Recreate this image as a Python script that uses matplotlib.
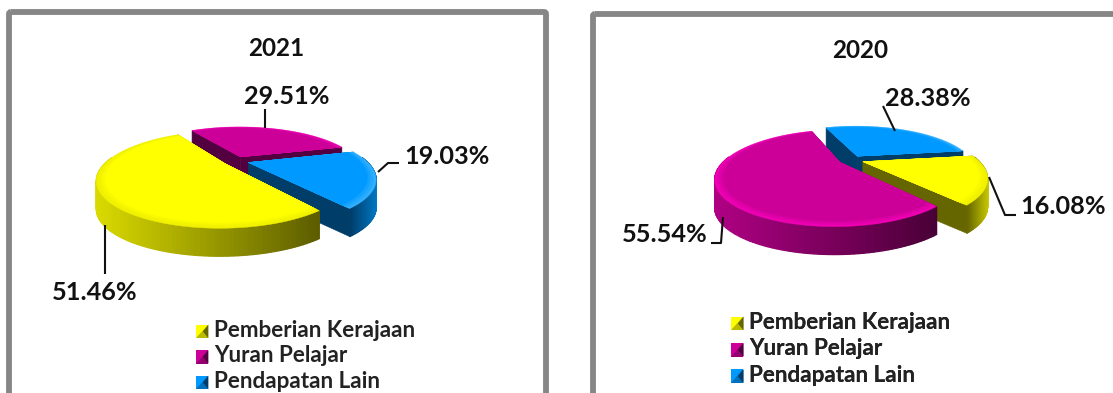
# plot.py
# Two exploded perspective pies (2021 and 2020), drawn on one pixel-scaled axes.
import numpy as np
import matplotlib
matplotlib.use("Agg")
import matplotlib.pyplot as plt
from matplotlib.colors import to_rgb
from matplotlib.legend_handler import HandlerBase
from matplotlib.patches import FancyBboxPatch, Patch, Polygon

# ─── Data ─────────────────────────────────────────────────────────────
CATEGORIES = ["Pemberian Kerajaan", "Yuran Pelajar", "Pendapatan Lain"]
VALUES_2021 = [51.46, 29.51, 19.03]
VALUES_2020 = [16.08, 55.54, 28.38]
LABELS_2021 = ["51.46%", "29.51%", "19.03%"]
LABELS_2020 = ["16.08%", "55.54%", "28.38%"]

# ─── Style ────────────────────────────────────────────────────────────
FONT = "Lato"
FRAME = "#868686"
TOP = ["#FFFF00", "#CC0099", "#0099FF"]
RIM = ["#F0F000", "#F000B4", "#30B0FF"]
CUT = ["#666600", "#520040", "#003D69"]
BIG_WALL = [("#DADA00", "#5C5C00"), ("#B00084", "#480036"), ("#0080D0", "#003D69")]
SMALL_WALL = [("#666600", "#C8C800"), ("#520040", "#A00078"), ("#003D69", "#0078C4")]

K = 0.32        # perspective strength
EXPLODE = 0.11  # slice offset, in disk radii
DEPTH = 28


def project(x, y, pie):
    s = 1 + K * y
    return pie["cx"] + pie["b"] * x / s, pie["cy"] - pie["a"] * y / s


def blend(c0, c1, t):
    return np.array(to_rgb(c0)) * (1 - t) + np.array(to_rgb(c1)) * t


def sector(theta, r, ox, oy, pie):
    px, py = project(ox + r * np.cos(theta), oy + r * np.sin(theta), pie)
    cx, cy = project(ox, oy, pie)
    return np.column_stack([np.r_[cx, px], np.r_[cy, py]])


def draw_slice(ax, a0, a1, i, wall, pie):
    mid = np.radians((a0 + a1) / 2)
    ox, oy = EXPLODE * np.cos(mid), EXPLODE * np.sin(mid)
    theta = np.radians(np.linspace(a0, a1, 120))
    top = sector(theta, 1.0, ox, oy, pie)

    # cut faces
    for tip in (top[1], top[-1]):
        face = [top[0], tip, tip + [0, DEPTH], top[0] + [0, DEPTH]]
        ax.add_patch(Polygon(face, closed=True, fc=CUT[i], ec=CUT[i], lw=0.4))

    # outer wall, shaded left to right
    arc = top[1:]
    xmin, xmax = arc[:, 0].min(), arc[:, 0].max()
    for p, q, t0 in zip(arc[:-1], arc[1:], theta[:-1]):
        if np.sin(t0) > 0.12:
            continue
        t = ((p[0] + q[0]) / 2 - xmin) / max(xmax - xmin, 1)
        c = blend(wall[i][0], wall[i][1], t)
        ax.add_patch(Polygon([p, q, q + [0, DEPTH], p + [0, DEPTH]],
                             closed=True, fc=c, ec=c, lw=0.9))

    # top face with a soft bevel towards the rim
    for r, t in [(1.0, 0.0), (0.98, 0.3), (0.96, 0.6), (0.94, 1.0)]:
        c = blend(RIM[i], TOP[i], t)
        ax.add_patch(Polygon(sector(theta, r, ox, oy, pie), closed=True,
                             fc=c, ec=c, lw=0.3))


class BoxHandler(HandlerBase):
    def create_artists(self, legend, orig, x0, y0, w, h, fontsize, trans):
        i = orig.get_gid()
        box = [(x0, y0), (x0 + w, y0), (x0 + w, y0 + h), (x0, y0 + h)]
        dark = [(x0 + w, y0 + h), (x0 + w, y0), (x0, y0)]
        notch = [(x0 + w * 0.55, y0 + h * 0.5), (x0 + w, y0 + h), (x0 + w, y0)]
        return [Polygon(box, fc=TOP[i], transform=trans),
                Polygon(dark, fc=blend(TOP[i], CUT[i], 0.45), transform=trans),
                Polygon(notch, fc=CUT[i], transform=trans)]


def draw_panel(ax, values, pie, order, big, panel):
    angle = pie["start"]
    spans = []
    for v in values:
        spans.append((angle, angle - 360 * v / 100))
        angle = spans[-1][1]
    for i in order:
        wall = BIG_WALL if i == big else SMALL_WALL
        draw_slice(ax, spans[i][0], spans[i][1], i, wall, pie)

    ax.add_patch(FancyBboxPatch(
        (panel["x0"], panel["y0"]), panel["w"], 500,
        boxstyle="round,pad=0,rounding_size=2", fc="none", ec=FRAME, lw=4.2))

    ax.text(panel["tx"], panel["ty"], panel["title"], ha="center", va="center",
            fontsize=17.5, fontweight="bold", color="#111111", family=FONT)

    handles = [Patch(label=c, gid=i) for i, c in enumerate(CATEGORIES)]
    leg = ax.legend(
        handles=handles, handler_map={Patch: BoxHandler()},
        loc="upper left", bbox_to_anchor=panel["legend"],
        bbox_transform=ax.transData, frameon=False, borderpad=0, borderaxespad=0,
        handlelength=0.55, handleheight=0.55, handletextpad=0.27,
        labelspacing=panel["spacing"],
        prop={"family": FONT, "weight": "bold", "size": 16.2})
    for t in leg.get_texts():
        t.set_color("#222222")
    ax.add_artist(leg)


def add_labels(ax, labels, places, leaders):
    for label, (x, y) in zip(labels, places):
        ax.text(x, y, label, ha="center", va="center", fontsize=18.2,
                fontweight="bold", color="#111111", family=FONT)
    for xs, ys in leaders:
        ax.plot(xs, ys, color="#111111", lw=1.5, solid_capstyle="butt")


def main():
    fig = plt.figure(figsize=(11.13, 3.93), dpi=100, facecolor="white")
    ax = fig.add_axes([0, 0, 1, 1])
    ax.set_xlim(0, 1113)
    ax.set_ylim(393, 0)
    ax.axis("off")

    draw_panel(ax, VALUES_2021,
               {"cx": 236, "cy": 161, "a": 41.8, "b": 118, "start": -53},
               order=[1, 2, 0], big=0,
               panel={"x0": 9, "y0": 12, "w": 537, "title": "2021",
                      "tx": 276, "ty": 48, "legend": (196, 320), "spacing": 0.2})
    add_labels(ax, LABELS_2021,
               [(95, 292), (287, 96), (447, 156)],
               [([105, 105], [225, 274]), ([265, 265], [109, 128]),
                ([378, 388, 399], [172, 163, 163])])

    draw_panel(ax, VALUES_2020,
               {"cx": 851, "cy": 160, "a": 41.8, "b": 115, "start": 8},
               order=[2, 0, 1], big=1,
               panel={"x0": 593, "y0": 14, "w": 560, "title": "2020",
                      "tx": 860, "ty": 50, "legend": (731, 312), "spacing": 0.24})
    add_labels(ax, LABELS_2020,
               [(1063, 206), (665, 235), (928, 98)],
               [([989, 1005, 1016], [177, 215, 215]),
                ([723, 721, 711], [217, 243, 243]),
                ([883, 895], [106, 131])])

    fig.savefig("out.png", dpi=100, facecolor="white")


if __name__ == "__main__":
    main()
